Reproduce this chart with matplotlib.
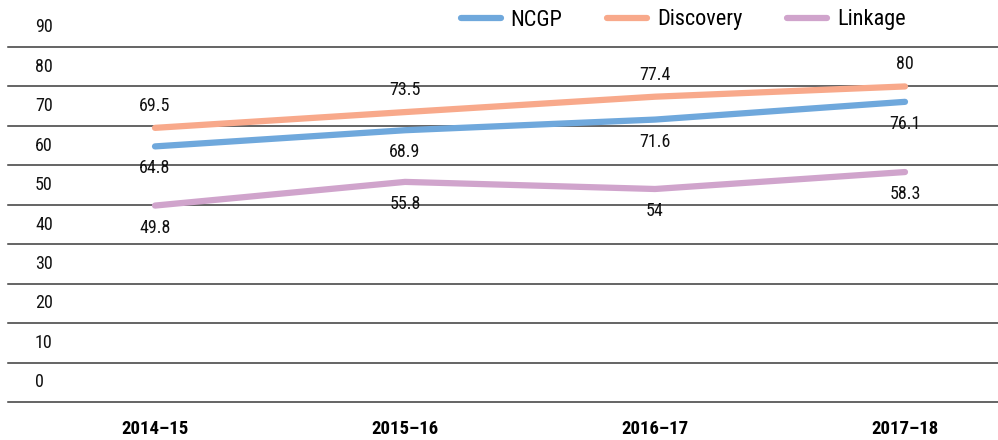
import matplotlib
matplotlib.use("Agg")
import matplotlib.pyplot as plt
from matplotlib.font_manager import fontManager

names = {f.name for f in fontManager.ttflist}
fam = [f for f in ["Roboto Condensed", "Liberation Sans Narrow", "Roboto", "DejaVu Sans"] if f in names]
plt.rcParams['font.family'] = fam

categories = ["2014–15", "2015–16", "2016–17", "2017–18"]
ncgp = [64.8, 68.9, 71.6, 76.1]
discovery = [69.5, 73.5, 77.4, 80]
linkage = [49.8, 55.8, 54, 58.3]
ytick_values = [0, 10, 20, 30, 40, 50, 60, 70, 80, 90]

colors = {"NCGP": "#6fa8dc", "Discovery": "#f8a98b", "Linkage": "#d0a4cc"}

W, H = 998, 440
fig = plt.figure(figsize=(W / 100, H / 100), dpi=100)
ax = fig.add_axes([8 / W, (H - 402) / H, 990 / W, (402 - 47) / H])

x = list(range(len(categories)))
ax.set_xlim((8 - 155) / 250, (998 - 155) / 250)
ax.set_ylim(0, 90)

for v in ytick_values:
    ax.axhline(v, color="#3a3a3a", lw=1.1, clip_on=False, zorder=1)
    ax.text(27 / 990, v + 5, str(v), transform=ax.get_yaxis_transform(),
            ha="left", va="center", fontsize=13, color="#111111")

series = [("NCGP", ncgp, -22), ("Discovery", discovery, 22), ("Linkage", linkage, -22)]
for name, vals, off in series:
    ax.plot(x, vals, color=colors[name], lw=4.5, solid_capstyle="round", label=name, zorder=3)
    for xi, v in zip(x, vals):
        ax.annotate(f"{v:g}", (xi, v), xytext=(0, off), textcoords="offset pixels",
                    ha="center", va="center", fontsize=13, color="#111111", zorder=4)

for s in ax.spines.values():
    s.set_visible(False)
ax.set_yticks([])
ax.set_xticks(x)
ax.set_xticklabels(categories, fontweight="bold", fontsize=13.5)
ax.tick_params(axis="x", length=0, pad=13)

leg = fig.legend(loc="center", bbox_to_anchor=(683 / W, 1 - 20 / H), ncol=3, frameon=False,
                 fontsize=16, handlelength=1.8, handletextpad=0.45, columnspacing=2.0)
for h in leg.get_lines():
    h.set_linewidth(4.5)

fig.savefig("out.png", dpi=100)
